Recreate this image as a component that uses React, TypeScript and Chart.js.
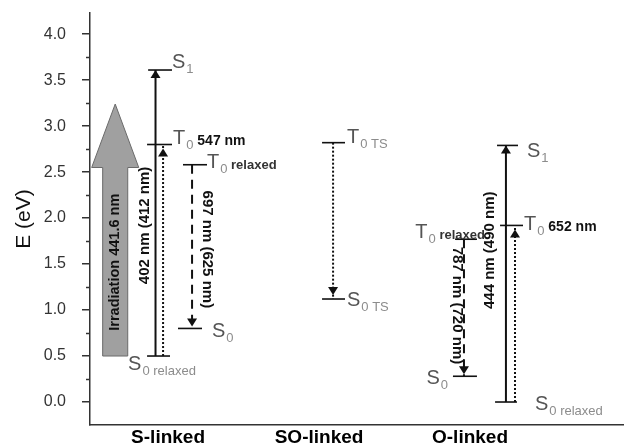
import React, { useEffect, useRef } from 'react';
import { Chart, registerables } from 'chart.js';

Chart.register(...registerables);

// ---------- data ----------
const CATEGORIES = ['S-linked', 'SO-linked', 'O-linked'];
const Y_TICKS = [0, 0.5, 1, 1.5, 2, 2.5, 3, 3.5, 4];

// energy levels (eV); x extent is relative to the category centre (category i sits at x = i + 1)
const LEVEL_CAT = [0, 0, 0, 0, 0, 1, 1, 2, 2, 2, 2, 2];
const LEVEL_X0 = [-0.132, -0.139, 0.099, 0.066, -0.139, 0.02, 0.02, 0.179, 0.199, -0.099, -0.113, 0.166];
const LEVEL_X1 = [0.026, 0.026, 0.258, 0.225, 0.013, 0.172, 0.172, 0.318, 0.351, 0.046, 0.046, 0.311];
const LEVEL_E = [3.61, 2.8, 2.58, 0.8, 0.5, 2.82, 1.12, 2.79, 1.92, 1.77, 0.28, 0.0];
const LEVEL_SYM = ['S', 'T', 'T', 'S', 'S', 'T', 'S', 'S', 'T', 'T', 'S', 'S'];
const LEVEL_SUB = ['1', '0', '0', '0', '0 relaxed', '0 TS', '0 TS', '1', '0', '0', '0', '0 relaxed'];
const LEVEL_NOTE = ['', ' 547 nm', ' relaxed', '', '', '', '', '', ' 652 nm', ' relaxed', '', ''];

// transitions (vertical arrows)
const TR_CAT = [0, 0, 0, 1, 2, 2, 2];
const TR_X = [-0.083, -0.033, 0.159, 0.093, 0.238, 0.298, -0.04];
const TR_FROM = [0.5, 0.5, 2.58, 2.82, 0.0, 0.0, 1.77];
const TR_TO = [3.61, 2.8, 0.8, 1.12, 2.79, 1.92, 0.28];
const TR_STYLE = ['solid', 'dotted', 'dashed', 'dotted', 'solid', 'dotted', 'dashed'];

// wavelength annotations
const WL_TEXT = ['402 nm (412 nm)', '697 nm (625 nm)', '444 nm (490 nm)', '787 nm (720 nm)'];
const WL_CAT = [0, 0, 2, 2];
const WL_X = [-0.152, 0.258, 0.132, -0.086];
const WL_E = [1.92, 1.66, 1.65, 1.05];
const WL_DIR = [-1, 1, -1, 1];

// irradiation arrow
const IRR_TEXT = 'Irradiation 441.6 nm';
const IRR_CAT = 0;
const IRR_X = -0.35;
const IRR_FROM = 0.5;
const IRR_HEAD_BASE = 2.55;
const IRR_TIP = 3.24;
const IRR_TEXT_E = 1.52;

// ---------- layout / style ----------
const FONT = '"Liberation Sans", Arial, Helvetica, sans-serif';
const SHAFT_HALF = 0.083;
const HEAD_HALF = 0.156;
const LABEL_ANCHOR = ['R', 'R', 'R', 'R', 'L', 'R', 'R', 'R', 'R', 'R', 'L', 'R'];
const LABEL_DX = [0, 1, 0, 10, -19, 2, 2, 9, 1, 8, -5, 18];
const LABEL_DY = [-2, -1, 3, 9, 14, 0, 7, 12, 5, -1, 8, 8];
const LABEL_ALIGN = ['left', 'left', 'left', 'left', 'left', 'left', 'left', 'left', 'left', 'right', 'right', 'left'];
const DASH: Record<string, number[]> = { solid: [], dotted: [2, 2], dashed: [9, 6] };
const HEAD_GAP: Record<string, number> = { solid: 0, dotted: 4, dashed: 2 };

function drawLevelLabel(ctx: CanvasRenderingContext2D, x: number, y: number, i: number) {
  const sym = LEVEL_SYM[i];
  const sub = LEVEL_SUB[i];
  const note = LEVEL_NOTE[i];
  const fMain = `20px ${FONT}`;
  const fSub = `13px ${FONT}`;
  const isNm = note.indexOf('nm') >= 0;
  const fNote = isNm ? `bold 14px ${FONT}` : `bold 13px ${FONT}`;
  ctx.font = fMain;
  const wSym = ctx.measureText(sym).width;
  ctx.font = fSub;
  const wSub = ctx.measureText(sub).width;
  ctx.font = fNote;
  const wNote = note ? ctx.measureText(note).width : 0;
  const total = wSym + wSub + wNote + 1;
  const start = LABEL_ALIGN[i] === 'right' ? x - total : x;
  ctx.textAlign = 'left';
  ctx.textBaseline = 'alphabetic';
  ctx.font = fMain;
  ctx.fillStyle = '#555';
  ctx.fillText(sym, start, y);
  ctx.font = fSub;
  ctx.fillStyle = '#8c8c8c';
  ctx.fillText(sub, start + wSym + 1, y + 5);
  if (note) {
    ctx.font = fNote;
    ctx.fillStyle = isNm ? '#111' : '#333';
    ctx.fillText(note, start + wSym + wSub + 1, y + 1);
  }
}

const diagramPlugin = {
  id: 'diagram',
  beforeDatasetsDraw(chart: any) {
    const { ctx } = chart;
    const xs = chart.scales.x;
    const ys = chart.scales.y;
    const cx = IRR_CAT + 1 + IRR_X;
    const pts = [
      [cx - SHAFT_HALF, IRR_FROM],
      [cx + SHAFT_HALF, IRR_FROM],
      [cx + SHAFT_HALF, IRR_HEAD_BASE],
      [cx + HEAD_HALF, IRR_HEAD_BASE],
      [cx, IRR_TIP],
      [cx - HEAD_HALF, IRR_HEAD_BASE],
      [cx - SHAFT_HALF, IRR_HEAD_BASE],
    ];
    ctx.save();
    ctx.beginPath();
    pts.forEach(([px, py], k) => {
      const X = xs.getPixelForValue(px);
      const Y = ys.getPixelForValue(py);
      if (k === 0) ctx.moveTo(X, Y);
      else ctx.lineTo(X, Y);
    });
    ctx.closePath();
    ctx.fillStyle = '#a0a0a0';
    ctx.fill();
    ctx.strokeStyle = '#6a6a6a';
    ctx.lineWidth = 1;
    ctx.stroke();
    ctx.translate(xs.getPixelForValue(cx), ys.getPixelForValue(IRR_TEXT_E));
    ctx.rotate(-Math.PI / 2);
    ctx.font = `bold 14.5px ${FONT}`;
    ctx.fillStyle = '#111';
    ctx.textAlign = 'center';
    ctx.textBaseline = 'middle';
    ctx.fillText(IRR_TEXT, 0, 0);
    ctx.restore();
  },
  afterDatasetsDraw(chart: any) {
    const { ctx } = chart;
    const xs = chart.scales.x;
    const ys = chart.scales.y;
    ctx.save();
    TR_TO.forEach((to, i) => {
      const x = xs.getPixelForValue(TR_CAT[i] + 1 + TR_X[i]);
      const fromPx = ys.getPixelForValue(TR_FROM[i]);
      const toPx = ys.getPixelForValue(to);
      const d = toPx > fromPx ? 1 : -1;
      const tip = toPx - d * HEAD_GAP[TR_STYLE[i]];
      const h = 8;
      const w = 5;
      ctx.beginPath();
      ctx.moveTo(x, tip);
      ctx.lineTo(x - w, tip - d * h);
      ctx.lineTo(x + w, tip - d * h);
      ctx.closePath();
      ctx.fillStyle = '#111';
      ctx.fill();
    });
    LEVEL_E.forEach((e, i) => {
      const base = LEVEL_CAT[i] + 1;
      const xEdge = LABEL_ANCHOR[i] === 'R' ? LEVEL_X1[i] : LEVEL_X0[i];
      const x = xs.getPixelForValue(base + xEdge) + LABEL_DX[i];
      const y = ys.getPixelForValue(e) + LABEL_DY[i];
      drawLevelLabel(ctx, x, y, i);
    });
    WL_TEXT.forEach((t, i) => {
      ctx.save();
      ctx.translate(xs.getPixelForValue(WL_CAT[i] + 1 + WL_X[i]), ys.getPixelForValue(WL_E[i]));
      ctx.rotate((WL_DIR[i] * Math.PI) / 2);
      ctx.font = `bold 15px ${FONT}`;
      ctx.fillStyle = '#111';
      ctx.textAlign = 'center';
      ctx.textBaseline = 'middle';
      ctx.fillText(t, 0, 0);
      ctx.restore();
    });
    const left = chart.chartArea.left;
    ctx.strokeStyle = '#333';
    ctx.lineWidth = 1.5;
    for (let k = 0; k < Y_TICKS.length - 1; k++) {
      const v = (Y_TICKS[k] + Y_TICKS[k + 1]) / 2;
      const Y = Math.round(ys.getPixelForValue(v)) + 0.5;
      ctx.beginPath();
      ctx.moveTo(left - 4, Y);
      ctx.lineTo(left, Y);
      ctx.stroke();
    }
    ctx.restore();
  },
};

export default function App() {
  const canvasRef = useRef<HTMLCanvasElement | null>(null);

  useEffect(() => {
    document.body.style.margin = '0';
    const canvas = canvasRef.current;
    if (!canvas) return;

    const datasets: any[] = [];
    LEVEL_E.forEach((e, i) => {
      const base = LEVEL_CAT[i] + 1;
      datasets.push({
        data: [
          { x: base + LEVEL_X0[i], y: e },
          { x: base + LEVEL_X1[i], y: e },
        ],
        borderColor: '#111',
        borderWidth: 1.6,
        pointRadius: 0,
        fill: false,
      });
    });
    TR_FROM.forEach((from, i) => {
      const x = TR_CAT[i] + 1 + TR_X[i];
      const style = TR_STYLE[i];
      datasets.push({
        data: [
          { x, y: from },
          { x, y: TR_TO[i] },
        ],
        borderColor: '#111',
        borderWidth: 2,
        borderDash: DASH[style],
        pointRadius: 0,
        fill: false,
      });
    });

    const chart = new Chart(canvas, {
      type: 'line',
      data: { datasets },
      options: {
        animation: false,
        responsive: false,
        maintainAspectRatio: false,
        layout: { padding: { top: 13, left: 0, right: 0, bottom: 0 } },
        plugins: { legend: { display: false }, tooltip: { enabled: false } },
        scales: {
          x: {
            type: 'linear',
            min: 0.483,
            max: 4.02,
            afterBuildTicks: (s: any) => {
              s.ticks = CATEGORIES.map((_, i) => ({ value: i + 1 }));
            },
            afterFit: (s: any) => {
              s.height = 21;
              s.paddingLeft = 0;
              s.paddingRight = 0;
            },
            grid: { display: false, drawTicks: false },
            border: { display: true, color: '#333', width: 1.5 },
            ticks: {
              callback: (v: any) => CATEGORIES[Math.round(Number(v)) - 1] ?? '',
              font: { family: FONT, size: 19, weight: 'bold' },
              color: '#000',
              padding: 1,
              maxRotation: 0,
              autoSkip: false,
            },
          },
          y: {
            type: 'linear',
            min: -0.25,
            max: 4.23,
            afterBuildTicks: (s: any) => {
              s.ticks = Y_TICKS.map((v) => ({ value: v }));
            },
            afterFit: (s: any) => {
              s.width = 90;
              s.paddingTop = 0;
              s.paddingBottom = 0;
            },
            grid: { drawOnChartArea: false, drawTicks: true, tickLength: 8, color: '#333', lineWidth: 1.5 },
            border: { display: true, color: '#333', width: 1.5 },
            ticks: {
              callback: (v: any) => Number(v).toFixed(1),
              font: { family: FONT, size: 16 },
              color: '#333',
              padding: 16,
            },
            title: {
              display: true,
              text: 'E (eV)',
              font: { family: FONT, size: 21 },
              color: '#111',
              padding: { top: 12, bottom: 0 },
            },
          },
        },
      },
      plugins: [diagramPlugin],
    } as any);

    return () => chart.destroy();
  }, []);

  return (
    <div style={{ position: 'absolute', left: 0, top: 0, width: 624, height: 446 }}>
      <canvas ref={canvasRef} width={624} height={446} style={{ width: 624, height: 446 }} />
    </div>
  );
}
